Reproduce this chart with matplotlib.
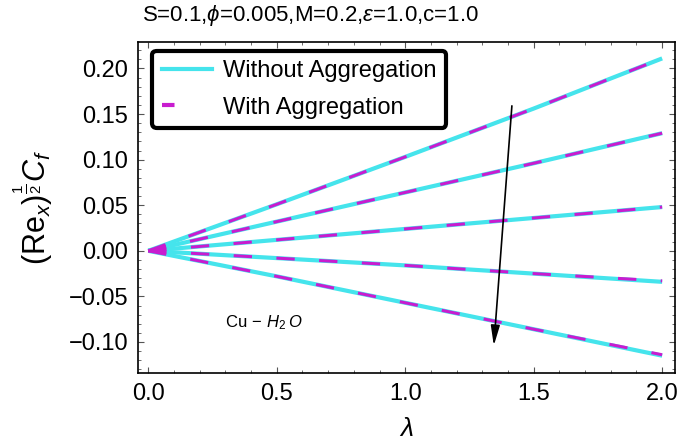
import matplotlib
matplotlib.use("Agg")
from matplotlib import pyplot as plt
from matplotlib.ticker import MultipleLocator
from matplotlib.lines import Line2D

plt.rcParams['font.family'] = ['Liberation Sans', 'DejaVu Sans']
plt.rcParams['mathtext.fontset'] = 'custom'
plt.rcParams['mathtext.rm'] = 'Liberation Sans'
plt.rcParams['mathtext.it'] = 'Liberation Sans:italic'

# lambda values and skin friction curves
lam = [0.0, 0.5, 1.0, 1.5, 2.0]
without_agg = [
    [0.0, 0.051, 0.103, 0.156, 0.211],
    [0.0, 0.032, 0.064, 0.096, 0.129],
    [0.0, 0.012, 0.024, 0.036, 0.048],
    [0.0, -0.008, -0.016, -0.025, -0.034],
    [0.0, -0.028, -0.057, -0.086, -0.115],
]
with_agg = [
    [0.0, 0.051, 0.103, 0.156, 0.211],
    [0.0, 0.032, 0.064, 0.096, 0.129],
    [0.0, 0.012, 0.024, 0.036, 0.048],
    [0.0, -0.008, -0.016, -0.025, -0.033],
    [0.0, -0.028, -0.057, -0.086, -0.114],
]
yticks = [-0.10, -0.05, 0.0, 0.05, 0.10, 0.15, 0.20]
ytick_labels = ['\u22120.10', '\u22120.05', '0.00', '0.05', '0.10', '0.15', '0.20']

cyan = '#45E4EC'
magenta = '#C81CCF'

fig = plt.figure(figsize=(6.85, 4.47), dpi=100)
ax = fig.add_axes([138/685, 1 - 373/447, (675-138)/685, (373-42)/447])

for y in without_agg:
    ax.plot(lam, y, color=cyan, lw=3.0, solid_capstyle='butt')
for y in with_agg:
    ax.plot(lam, y, color=magenta, lw=2.2, dashes=(6, 8), dash_capstyle='butt')

ax.set_xlim(-0.04, 2.05)
ax.set_ylim(-0.134, 0.229)
ax.xaxis.set_major_locator(MultipleLocator(0.5))
ax.xaxis.set_minor_locator(MultipleLocator(0.1))
ax.yaxis.set_minor_locator(MultipleLocator(0.01))
ax.set_yticks(yticks)
ax.set_yticklabels(ytick_labels)
ax.tick_params(which='both', direction='in', top=True, right=True, labelsize=17, color='#555555')
ax.tick_params(which='major', length=4, width=0.8, pad=7)
ax.tick_params(which='minor', length=2, width=0.6)
for s in ax.spines.values():
    s.set_linewidth(1.2)

ax.set_xlabel(r'$\lambda$', fontsize=19, labelpad=9)
fig.text(33/685, 1 - 207/447, r'$(\mathrm{Re}_x)^{\frac{1}{2}}C_f$', rotation=90,
         fontsize=22, ha='center', va='center')
fig.text(310/685, 1 - 15/447, r'S=0.1,$\phi$=0.005,M=0.2,$\varepsilon$=1.0,c=1.0',
         fontsize=16, ha='center', va='center')

ax.annotate('', xy=(1.344, -0.107), xytext=(1.416, 0.162),
            arrowprops=dict(arrowstyle='-|>,head_length=0.8,head_width=0.18',
                            color='black', lw=1.2, mutation_scale=15))
ax.text(0.30, -0.079, r'Cu$\,-\,H_2\;O$', fontsize=12, va='center')

handles = [Line2D([], [], color=cyan, lw=3.0),
           Line2D([], [], color=magenta, lw=3.0, dashes=(3, 100))]
leg = ax.legend(handles, ['Without Aggregation', 'With Aggregation'], loc='upper left',
                bbox_to_anchor=(0.027, 0.974), borderaxespad=0, fontsize=17,
                handlelength=2.1, handletextpad=0.5, frameon=True, fancybox=True,
                borderpad=0.4, labelspacing=0.62)
leg.get_frame().set_edgecolor('black')
leg.get_frame().set_linewidth(3)
leg.get_frame().set_alpha(1)

fig.savefig('out.png', dpi=100)
